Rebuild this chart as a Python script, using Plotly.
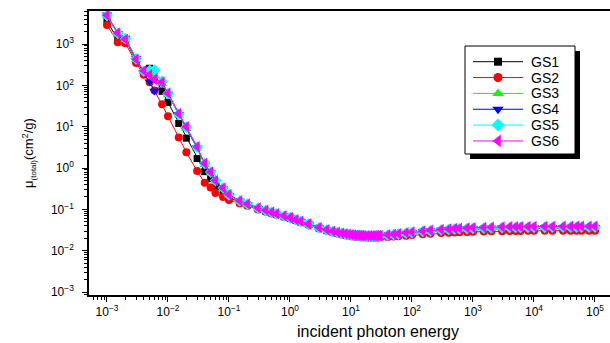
import plotly.graph_objects as go

energy = [1e-3, 1.5e-3, 2e-3, 3e-3, 4e-3, 5e-3, 6e-3, 8e-3,
          1e-2, 1.5e-2, 2e-2, 3e-2, 4e-2, 5e-2, 6e-2, 8e-2,
          0.1, 0.15, 0.2, 0.3, 0.4, 0.5, 0.6, 0.8,
          1, 1.022, 1.25, 1.5, 2, 2.044, 3, 4, 5, 6, 7, 8, 9,
          10, 11, 12, 13, 14, 15, 16, 18, 20, 22, 24, 26, 28, 30, 40, 50, 60, 80,
          100, 150, 200, 300, 400, 500, 600, 800,
          1000, 1500, 2000, 3000, 4000, 5000, 6000, 8000,
          10000, 15000, 20000, 30000, 40000, 50000, 60000, 80000,
          100000]

gs1 = [3600, 1300, 1250, 400, 210, 260, 160, 72,
       39, 12, 5.3, 1.7, 0.82, 0.56, 0.36, 0.24,
       0.19, 0.15, 0.128, 0.104, 0.091, 0.083, 0.076, 0.067,
       0.062, 0.061, 0.055, 0.050, 0.0435, 0.043, 0.0355, 0.0314, 0.0288, 0.0271, 0.0258, 0.0249, 0.0242,
       0.0237, 0.0233, 0.023, 0.0228, 0.0226, 0.0225, 0.0224, 0.0223, 0.0222, 0.0222, 0.0223, 0.0224, 0.0225, 0.0226, 0.0233, 0.024, 0.0246, 0.0258,
       0.0267, 0.0283, 0.0293, 0.0305, 0.0313, 0.0318, 0.0322, 0.0328,
       0.0331, 0.0337, 0.034, 0.0344, 0.0346, 0.0347, 0.0348, 0.035,
       0.0351, 0.0352, 0.0353, 0.0354, 0.0354, 0.0355, 0.0355, 0.0355,
       0.0356]

gs2 = [2900, 1100, 1050, 350, 180, 120, 75, 35,
       18, 5.5, 2.4, 0.85, 0.44, 0.34, 0.25, 0.2,
       0.17, 0.14, 0.122, 0.1, 0.088, 0.08, 0.074, 0.066,
       0.061, 0.06, 0.054, 0.049, 0.0428, 0.0423, 0.0348, 0.0306, 0.0279, 0.0261, 0.0248, 0.0238, 0.0231,
       0.0225, 0.0221, 0.0218, 0.0215, 0.0213, 0.0212, 0.0211, 0.021, 0.0209, 0.0209, 0.0209, 0.021, 0.021, 0.0211, 0.0215, 0.022, 0.0224, 0.0232,
       0.0239, 0.0251, 0.0259, 0.0268, 0.0274, 0.0278, 0.0281, 0.0285,
       0.0288, 0.0292, 0.0295, 0.0298, 0.03, 0.0301, 0.0302, 0.0303,
       0.0304, 0.0305, 0.0305, 0.0306, 0.0306, 0.0307, 0.0307, 0.0307,
       0.0307]

gs3 = [4800, 1750, 1250, 420, 215, 200, 170, 110,
       60, 19, 9, 3.0, 1.2, 0.75, 0.47, 0.31,
       0.22, 0.158, 0.133, 0.107, 0.093, 0.084, 0.077, 0.068,
       0.0625, 0.0615, 0.0555, 0.0505, 0.0438, 0.0433, 0.0358, 0.0316, 0.029, 0.0273, 0.026, 0.0251, 0.0244,
       0.0239, 0.0235, 0.0232, 0.023, 0.0228, 0.0227, 0.0226, 0.0225, 0.0224, 0.0224, 0.0225, 0.0226, 0.0227, 0.0228, 0.0236, 0.0244, 0.0251, 0.0264,
       0.0274, 0.029, 0.0301, 0.0315, 0.0324, 0.033, 0.0334, 0.034,
       0.0344, 0.035, 0.0354, 0.0358, 0.036, 0.0362, 0.0363, 0.0365,
       0.0366, 0.0367, 0.0368, 0.0369, 0.0369, 0.037, 0.037, 0.037,
       0.0371]

gs4 = [5100, 1800, 1400, 450, 200, 123, 73, 110,
       62, 20, 9.5, 3.1, 1.25, 0.78, 0.48, 0.32,
       0.22, 0.159, 0.134, 0.107, 0.093, 0.084, 0.077, 0.068,
       0.0627, 0.0617, 0.0557, 0.0507, 0.0439, 0.0434, 0.0359, 0.0317, 0.0291, 0.0274, 0.0261, 0.0252, 0.0245,
       0.024, 0.0236, 0.0233, 0.0231, 0.0229, 0.0228, 0.0227, 0.0226, 0.0225, 0.0225, 0.0226, 0.0227, 0.0228, 0.0229, 0.0237, 0.0245, 0.0252, 0.0265,
       0.0275, 0.0292, 0.0303, 0.0317, 0.0326, 0.0332, 0.0336, 0.0342,
       0.0346, 0.0352, 0.0356, 0.036, 0.0362, 0.0364, 0.0365, 0.0367,
       0.0368, 0.0369, 0.037, 0.0371, 0.0371, 0.0372, 0.0372, 0.0372,
       0.0373]

gs5 = [4900, 1800, 1350, 440, 220, 230, 235, 125,
       63, 20, 9.8, 3.2, 1.28, 0.8, 0.5, 0.33,
       0.225, 0.16, 0.135, 0.108, 0.094, 0.085, 0.078, 0.069,
       0.063, 0.062, 0.056, 0.051, 0.044, 0.0435, 0.036, 0.0318, 0.0292, 0.0275, 0.0262, 0.0253, 0.0246,
       0.0241, 0.0237, 0.0234, 0.0232, 0.023, 0.0229, 0.0228, 0.0227, 0.0226, 0.0226, 0.0227, 0.0228, 0.0229, 0.023, 0.0238, 0.0246, 0.0253, 0.0266,
       0.0276, 0.0293, 0.0304, 0.0318, 0.0327, 0.0333, 0.0337, 0.0343,
       0.0347, 0.0353, 0.0357, 0.0361, 0.0363, 0.0365, 0.0366, 0.0368,
       0.0369, 0.037, 0.0371, 0.0372, 0.0372, 0.0373, 0.0373, 0.0373,
       0.0374]

gs6 = [5000, 1850, 1300, 430, 225, 180, 140, 120,
       65, 21, 10, 3.3, 1.3, 0.8, 0.5, 0.33,
       0.23, 0.162, 0.136, 0.109, 0.095, 0.086, 0.079, 0.07,
       0.0635, 0.0625, 0.0565, 0.0515, 0.0445, 0.044, 0.0364, 0.0322, 0.0296, 0.0279, 0.0266, 0.0257, 0.025,
       0.0245, 0.0241, 0.0238, 0.0236, 0.0234, 0.0233, 0.0232, 0.0231, 0.023, 0.023, 0.0231, 0.0232, 0.0233, 0.0234, 0.0243, 0.0251, 0.0259, 0.0272,
       0.0283, 0.0301, 0.0313, 0.0328, 0.0338, 0.0344, 0.0349, 0.0356,
       0.036, 0.0367, 0.0372, 0.0377, 0.038, 0.0382, 0.0383, 0.0385,
       0.0386, 0.0387, 0.0388, 0.0389, 0.0389, 0.039, 0.039, 0.039,
       0.0391]

series_names = ["GS1", "GS2", "GS3", "GS4", "GS5", "GS6"]
series_vals = [gs1, gs2, gs3, gs4, gs5, gs6]
colors = ["#000000", "#ff0000", "#00ff00", "#0000ff", "#00ffff", "#ff00ff"]
symbols = ["square", "circle", "triangle-up", "triangle-down", "diamond", "triangle-left"]
sizes = [7, 8, 9, 9, 9, 10]

x_exps = [-3, -2, -1, 0, 1, 2, 3, 4, 5]
y_exps = [-3, -2, -1, 0, 1, 2, 3]

W, H = 610, 343
# plot area in pixels: left 89, top 11, right 610, bottom 295
L, R, T, B = 89, 0, 11, H - 295

fig = go.Figure()
for name, vals, c, s, sz in zip(series_names, series_vals, colors, symbols, sizes):
    fig.add_trace(go.Scatter(
        x=energy, y=vals, name=name, mode="lines+markers",
        line=dict(color=c, width=1),
        marker=dict(symbol=s, size=sz, color=c, line=dict(width=0)),
        showlegend=False,
    ))

pw = W - L - R
ph = H - T - B
def px(x):  # pixel x -> paper fraction
    return (x - L) / pw
def py(y):  # pixel y -> paper fraction
    return (H - B - y) / ph

# --- manual legend (box, shadow, lines, markers, text) in pixels ---
box_l, box_r, box_t, box_b = 465, 575, 46, 154
shadow = 5
row0, row_step = 61.7, 15.85
line_l, line_r, sym_x, text_x = 473, 523, 498, 529

shapes = [
    dict(type="rect", xref="paper", yref="paper", layer="below",
         x0=px(box_l + shadow), x1=px(box_r + shadow), y0=py(box_b + shadow), y1=py(box_t + shadow),
         fillcolor="black", line=dict(width=0)),
    dict(type="rect", xref="paper", yref="paper", layer="below",
         x0=px(box_l), x1=px(box_r), y0=py(box_b), y1=py(box_t),
         fillcolor="white", line=dict(color="black", width=1)),
]
annotations = []
for i, (name, c, s, sz) in enumerate(zip(series_names, colors, symbols, sizes)):
    ry = row0 + i * row_step
    shapes.append(dict(type="line", xref="paper", yref="paper", layer="below",
                       x0=px(line_l), x1=px(line_r), y0=py(ry), y1=py(ry),
                       line=dict(color=c, width=1)))
    fig.add_trace(go.Scatter(x=[sym_x], y=[ry], xaxis="x2", yaxis="y2", mode="markers",
                             marker=dict(symbol=s, size=sz + 1, color=c, line=dict(width=0)),
                             showlegend=False, hoverinfo="skip"))
    annotations.append(dict(text=name, xref="paper", yref="paper", x=px(text_x), y=py(ry),
                            xanchor="left", yanchor="middle", showarrow=False,
                            font=dict(size=14)))

annotations.append(dict(text="incident photon energy", xref="paper", yref="paper",
                        x=px(378), y=py(331), xanchor="center", yanchor="middle",
                        showarrow=False, font=dict(size=16)))

fig.update_layout(
    width=W, height=H,
    margin=dict(l=L, r=R, t=T, b=B, autoexpand=False),
    paper_bgcolor="white", plot_bgcolor="white",
    font=dict(family="Liberation Sans, Arial, sans-serif", color="black", size=12),
    showlegend=False,
    shapes=shapes,
    annotations=annotations,
    xaxis2=dict(overlaying="x", range=[L, W - R], visible=False, fixedrange=True),
    yaxis2=dict(overlaying="y", range=[H - B, T], visible=False, fixedrange=True),
    xaxis=dict(type="log", range=[-3.295, 5.246], automargin=False,
               showline=True, linecolor="black", linewidth=1.5, mirror=True,
               ticks="outside", ticklen=5, tickwidth=1, tickcolor="black",
               tickvals=[10.0 ** e for e in x_exps],
               ticktext=["10<sup>%s</sup>" % (str(e).replace("-", "−")) for e in x_exps],
               showgrid=False, zeroline=False, tickfont=dict(size=12),
               minor=dict(ticks="outside", ticklen=3, tickcolor="black", showgrid=False,
                          tickvals=[m * 10.0 ** e for e in range(-4, 6) for m in range(2, 10)])),
    yaxis=dict(type="log", range=[-3.07, 3.8], automargin=False,
               showline=True, linecolor="black", linewidth=1.5, mirror=False,
               ticks="outside", ticklen=5, tickwidth=1, tickcolor="black",
               tickvals=[10.0 ** e for e in y_exps],
               ticktext=["10<sup>%s</sup>" % (str(e).replace("-", "−")) for e in y_exps],
               showgrid=False, zeroline=False, tickfont=dict(size=12), ticklabelstandoff=6,
               minor=dict(ticks="outside", ticklen=3, tickcolor="black", showgrid=False,
                          tickvals=[m * 10.0 ** e for e in range(-4, 5) for m in range(2, 10)]),
               title=dict(text="μ<sub><span style='font-size:8px'>(total)</span></sub>(cm<sup>2</sup>/g)",
                          font=dict(size=13), standoff=14)),
)

fig.write_html("out.html")
